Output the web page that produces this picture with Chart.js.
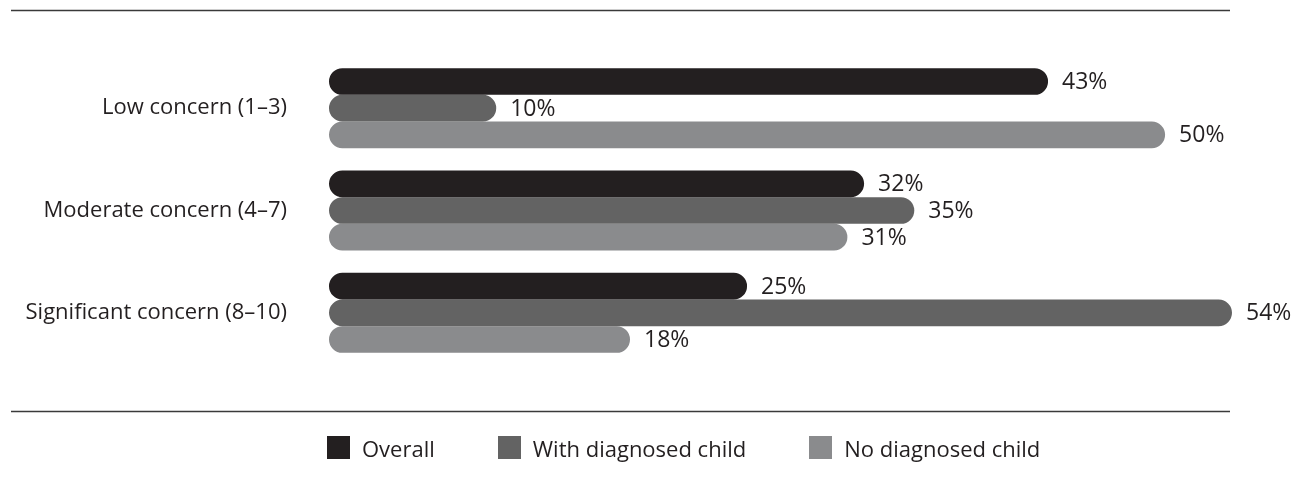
<!DOCTYPE html>
<html>
<head>
<meta charset="utf-8">
<script src="https://cdn.jsdelivr.net/npm/chart.js@4/dist/chart.umd.min.js"></script>
<style>
  html, body { margin: 0; padding: 0; background: #fff; }
  #wrap { position: relative; width: 1303px; height: 487px; }
  #legend {
    position: absolute; left: 327px; top: 436px; height: 23px;
    display: flex; align-items: center;
    font-family: "Open Sans", sans-serif; font-size: 22px; color: #231f20;
  }
  .item { display: flex; align-items: center; margin-right: 63px; }
  .swatch { width: 23px; height: 23px; margin-right: 12px; }
</style>
</head>
<body>
<div id="wrap">
  <canvas id="concernChart" width="1303" height="487"></canvas>
  <div id="legend"></div>
</div>
<script>
const categories = ["Low concern (1–3)", "Moderate concern (4–7)", "Significant concern (8–10)"];
const seriesNames = ["Overall", "With diagnosed child", "No diagnosed child"];
const overall = [43, 32, 25];
const withDiagnosed = [10, 35, 54];
const noDiagnosed = [50, 31, 18];
const seriesColors = ["#231f20", "#636363", "#8a8b8d"];

const FONT = '"Open Sans", sans-serif';

// horizontal rules above the bars and above the legend
const rulesPlugin = {
  id: "rules",
  beforeDraw(chart) {
    const ctx = chart.ctx;
    ctx.save();
    ctx.strokeStyle = "#3a3a3a";
    ctx.lineWidth = 1.6;
    ctx.beginPath();
    ctx.moveTo(11, 10.5);
    ctx.lineTo(1230, 10.5);
    ctx.moveTo(11, 411.5);
    ctx.lineTo(1230, 411.5);
    ctx.stroke();
    ctx.restore();
  },
};

// percentage labels at the end of each bar
const valueLabels = {
  id: "valueLabels",
  afterDatasetsDraw(chart) {
    const ctx = chart.ctx;
    ctx.save();
    ctx.font = "23px " + FONT;
    ctx.fillStyle = "#231f20";
    ctx.textAlign = "left";
    ctx.textBaseline = "middle";
    chart.data.datasets.forEach((ds, i) => {
      chart.getDatasetMeta(i).data.forEach((bar, j) => {
        ctx.fillText(ds.data[j] + "%", bar.x + 14, bar.y + 1);
      });
    });
    ctx.restore();
  },
};

const datasets = [overall, withDiagnosed, noDiagnosed].map((values, i) => ({
  label: seriesNames[i],
  data: values,
  backgroundColor: seriesColors[i],
  borderWidth: 0,
  borderRadius: 14,
  borderSkipped: false,
  categoryPercentage: 0.782,
  barPercentage: 1.0,
}));

new Chart(document.getElementById("concernChart"), {
  type: "bar",
  data: { labels: categories, datasets: datasets },
  options: {
    indexAxis: "y",
    responsive: false,
    animation: false,
    layout: { padding: { left: 0, top: 57, right: 71, bottom: 123 } },
    scales: {
      x: { display: false, min: 0, max: 54 },
      y: {
        grid: { display: false, drawTicks: false },
        border: { display: false },
        ticks: {
          padding: 42,
          color: "#231f20",
          font: { family: FONT, size: 22 },
        },
        afterFit(scale) {
          scale.width = 329;
        },
      },
    },
    plugins: {
      legend: { display: false },
      tooltip: { enabled: false },
    },
  },
  plugins: [rulesPlugin, valueLabels],
});

// legend row under the lower rule
const legend = document.getElementById("legend");
seriesNames.forEach((name, i) => {
  const item = document.createElement("div");
  item.className = "item";
  item.innerHTML =
    '<span class="swatch" style="background:' + seriesColors[i] + '"></span>' + name;
  legend.appendChild(item);
});
</script>
</body>
</html>
